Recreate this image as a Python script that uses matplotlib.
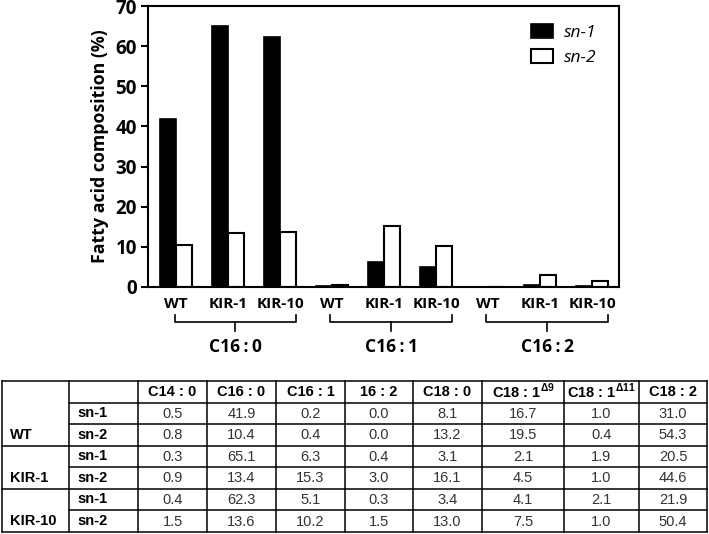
import numpy as np
import matplotlib
matplotlib.use("Agg")
import matplotlib.pyplot as plt

plt.rcParams['font.family'] = ['Open Sans', 'DejaVu Sans']
plt.rcParams['mathtext.fontset'] = 'custom'
plt.rcParams['mathtext.rm'] = 'Liberation Sans:bold'
plt.rcParams['mathtext.bf'] = 'Liberation Sans:bold'

# ---- data ----
lines = ["WT", "KIR-1", "KIR-10"]
groups = ["C16\u2009:\u20090", "C16\u2009:\u20091", "C16\u2009:\u20092"]
sn1_bars = [41.9, 65.1, 62.3, 0.2, 6.3, 5.1, 0.0, 0.4, 0.3]
sn2_bars = [10.4, 13.4, 13.6, 0.4, 15.3, 10.2, 0.0, 3.0, 1.5]

col_headers = ["C14 : 0", "C16 : 0", "C16 : 1", "16 : 2", "C18 : 0",
               r"C18 : 1$^{\mathrm{\Delta 9}}$", r"C18 : 1$^{\mathrm{\Delta 11}}$", "C18 : 2"]
positions = ["sn-1", "sn-2"]
table_vals = [
    ["0.5", "41.9", "0.2", "0.0", "8.1", "16.7", "1.0", "31.0"],
    ["0.8", "10.4", "0.4", "0.0", "13.2", "19.5", "0.4", "54.3"],
    ["0.3", "65.1", "6.3", "0.4", "3.1", "2.1", "1.9", "20.5"],
    ["0.9", "13.4", "15.3", "3.0", "16.1", "4.5", "1.0", "44.6"],
    ["0.4", "62.3", "5.1", "0.3", "3.4", "4.1", "2.1", "21.9"],
    ["1.5", "13.6", "10.2", "1.5", "13.0", "7.5", "1.0", "50.4"],
]

W, H = 709, 534
fig = plt.figure(figsize=(W / 100, H / 100), dpi=100)

# ---- bar chart ----
ax = fig.add_axes([148 / W, 1 - 287 / H, 471 / W, 281 / H])
x = np.arange(len(sn1_bars))
w = 0.31
ax.bar(x - w / 2, sn1_bars, w, color="black", edgecolor="black", lw=1.2, label="sn-1")
ax.bar(x + w / 2, sn2_bars, w, color="white", edgecolor="black", lw=1.5, label="sn-2")
ax.set_xlim(-0.54, 8.52)
ax.set_ylim(0, 70)
ax.set_yticks(range(0, 71, 10))
ax.set_xticks(x)
ax.set_xticklabels(lines * 3, fontweight="bold", fontsize=11)
ax.tick_params(axis="x", length=0, pad=7)
ax.tick_params(axis="y", length=5, width=1.5, labelsize=13.5, pad=3)
for t in ax.get_yticklabels():
    t.set_fontweight("bold")
for s in ax.spines.values():
    s.set_linewidth(1.5)
ax.set_ylabel("Fatty acid composition (%)", fontweight="bold", fontsize=12.8, labelpad=5)

leg = ax.legend(loc="upper right", bbox_to_anchor=(0.985, 0.99), frameon=False,
                prop={"style": "italic", "size": 12.5}, handlelength=1.3,
                handleheight=0.85, labelspacing=0.45, handletextpad=0.6)

# brackets under groups
tr = ax.get_xaxis_transform()
for g, name in enumerate(groups):
    x0 = g * 3 - 0.03
    x1 = g * 3 + 2.3
    xm = (x0 + x1) / 2
    ax.plot([x0, x0, x1, x1], [-0.10, -0.125, -0.125, -0.10], color="black", lw=1.2,
            transform=tr, clip_on=False)
    ax.plot([xm, xm], [-0.125, -0.155], color="black", lw=1.2, transform=tr, clip_on=False)
    ax.text(xm, -0.215, name, transform=tr, ha="center", va="center",
            fontweight="bold", fontsize=12.5)

# ---- table ----
tax = fig.add_axes([0, 0, 1, 1])
tax.set_xlim(0, W)
tax.set_ylim(H, 0)
tax.axis("off")

col_edges = [2, 69, 138, 207, 276, 345, 413, 482, 564, 639, 707]
row_edges = [381, 402.5, 424, 445.5, 467, 488.5, 510, 532]
tkw = dict(color="black", lw=1.1, clip_on=False)

tax.plot([col_edges[0], col_edges[-1]], [row_edges[0]] * 2, **tkw)
tax.plot([col_edges[0], col_edges[-1]], [row_edges[-1]] * 2, **tkw)
for c in col_edges:
    tax.plot([c, c], [row_edges[0], row_edges[-1]], **tkw)
for r in range(1, len(row_edges) - 1):
    x_start = col_edges[0] if (r % 2 == 1 and r > 1) else col_edges[1]
    tax.plot([x_start, col_edges[-1]], [row_edges[r]] * 2, **tkw)

tfont = ["Liberation Sans", "DejaVu Sans"]
for j, h in enumerate(col_headers):
    xc = (col_edges[j + 2] + col_edges[j + 3]) / 2
    yc = (row_edges[0] + row_edges[1]) / 2
    tax.text(xc, yc, h, ha="center", va="center", fontsize=10.5, fontweight="bold", family=tfont)

for i, row in enumerate(table_vals):
    yc = (row_edges[i + 1] + row_edges[i + 2]) / 2
    tax.text(col_edges[1] + 8, yc, positions[i % 2], ha="left", va="center",
             fontsize=10.5, fontweight="bold", family=tfont)
    if i % 2 == 1:
        tax.text(col_edges[0] + 8, yc, lines[i // 2], ha="left", va="center",
                 fontsize=10.5, fontweight="bold", family=tfont)
    for j, v in enumerate(row):
        xc = (col_edges[j + 2] + col_edges[j + 3]) / 2
        tax.text(xc, yc + 0.5, v, ha="center", va="center", fontsize=10.5,
                 color="#333333", family=tfont)

fig.savefig("out.png", dpi=100)
